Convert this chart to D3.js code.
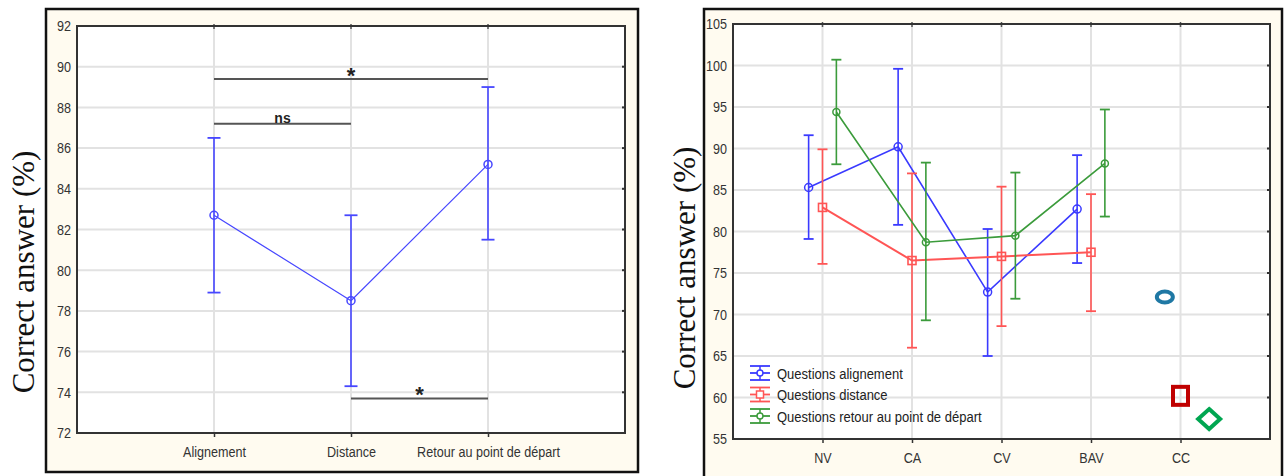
<!DOCTYPE html>
<html>
<head>
<meta charset="utf-8">
<script src="https://cdn.jsdelivr.net/npm/d3@7"></script>
<style>
  body { margin: 0; background: #ffffff; }
  svg { display: block; }
  .tick text { font-family: "Liberation Sans Narrow", "Arial Narrow", "Liberation Sans", sans-serif; font-size: 15px; fill: #333; }
</style>
</head>
<body>
<svg id="chart" width="1284" height="476"></svg>
<script>
// panneau gauche : types de questions
const leftCategories = ["Alignement", "Distance", "Retour au point de départ"];
const leftMeans = [82.7, 78.5, 85.2];
const leftLower = [78.9, 74.3, 81.5];
const leftUpper = [86.5, 82.7, 89.0];
const leftTicks = [72, 74, 76, 78, 80, 82, 84, 86, 88, 90, 92];
const sigFrom = [0, 0, 1];
const sigTo = [2, 1, 2];
const sigValues = [89.4, 87.2, 73.7];
const sigLabels = ["*", "ns", "*"];

// panneau droit : groupes
const rightCategories = ["NV", "CA", "CV", "BAV", "CC"];
const seriesNames = ["Questions alignement", "Questions distance", "Questions retour au point de départ"];
const alignMeans = [85.3, 90.2, 72.7, 82.7];
const alignLower = [79.1, 80.8, 65.0, 76.2];
const alignUpper = [91.6, 99.6, 80.3, 89.2];
const distMeans = [82.9, 76.5, 77.0, 77.5];
const distLower = [76.1, 66.0, 68.6, 70.4];
const distUpper = [89.9, 87.0, 85.4, 84.5];
const retourMeans = [94.4, 78.7, 79.5, 88.2];
const retourLower = [88.1, 69.3, 71.9, 81.8];
const retourUpper = [100.7, 88.3, 87.1, 94.7];
const rightTicks = [55, 60, 65, 70, 75, 80, 85, 90, 95, 100, 105];
const ccValues = [72.1, 60.2, 57.4];

const svg = d3.select("#chart");
const tickFont = '"Liberation Sans Narrow", "Arial Narrow", "Liberation Sans", sans-serif';
const narrow = "scale(0.84,1)";

function drawPanel(frame, plot, yDomain, ticks, nSlots, categories, titleX, titleY) {
    // cadre crème
    svg.append("rect")
        .attr("x", frame.x).attr("y", frame.y)
        .attr("width", frame.w).attr("height", frame.h)
        .attr("fill", "#fffbf0")
        .attr("stroke", "#111").attr("stroke-width", 2.5);

    svg.append("rect")
        .attr("x", plot.l).attr("y", plot.t)
        .attr("width", plot.r - plot.l).attr("height", plot.b - plot.t)
        .attr("fill", "#ffffff");

    let x = d3.scaleLinear([0, nSlots], [plot.l, plot.r]);
    let y = d3.scaleLinear(yDomain, [plot.b, plot.t]);

    // grille
    svg.append("g")
        .selectAll("line")
        .data(ticks)
        .join("line")
        .attr("x1", plot.l).attr("x2", plot.r)
        .attr("y1", d => y(d)).attr("y2", d => y(d))
        .attr("stroke", "#e2e2e2").attr("stroke-width", 2);

    svg.append("g")
        .selectAll("line")
        .data(categories)
        .join("line")
        .attr("x1", (d, i) => x(i + 1)).attr("x2", (d, i) => x(i + 1))
        .attr("y1", plot.t).attr("y2", plot.b)
        .attr("stroke", "#e2e2e2").attr("stroke-width", 2);

    // axe y
    let yAxis = svg.append("g")
        .attr("transform", `translate(${plot.l},0)`)
        .call(d3.axisLeft(y).tickValues(ticks).tickSize(0).tickPadding(7));
    yAxis.select(".domain").remove();
    yAxis.selectAll("text").attr("transform", narrow);

    // petites graduations à droite
    svg.append("g")
        .selectAll("line")
        .data(ticks)
        .join("line")
        .attr("x1", plot.r - 3).attr("x2", plot.r)
        .attr("y1", d => y(d)).attr("y2", d => y(d))
        .attr("stroke", "#333").attr("stroke-width", 2);

    // axe x
    let xAxis = svg.append("g")
        .attr("transform", `translate(0,${plot.b})`)
        .call(d3.axisBottom(x)
            .tickValues(d3.range(1, categories.length + 1))
            .tickFormat(i => categories[i - 1])
            .tickSize(4).tickPadding(9));
    xAxis.select(".domain").remove();
    xAxis.selectAll(".tick line").attr("stroke", "#333").attr("stroke-width", 1.5);
    xAxis.selectAll("text").attr("transform", narrow);

    svg.append("g")
        .selectAll("line")
        .data(categories)
        .join("line")
        .attr("x1", (d, i) => x(i + 1)).attr("x2", (d, i) => x(i + 1))
        .attr("y1", plot.t - 2).attr("y2", plot.t + 3)
        .attr("stroke", "#555").attr("stroke-width", 1.5);

    svg.append("rect")
        .attr("x", plot.l).attr("y", plot.t)
        .attr("width", plot.r - plot.l).attr("height", plot.b - plot.t)
        .attr("fill", "none")
        .attr("stroke", "#333").attr("stroke-width", 2);

    svg.append("text")
        .attr("transform", `translate(${titleX},${titleY}) rotate(-90)`)
        .attr("text-anchor", "middle")
        .attr("font-family", '"Liberation Serif", "DejaVu Serif", serif')
        .attr("font-size", 31)
        .attr("fill", "#111")
        .text("Correct answer (%)");

    return { x, y };
}

function drawSeries(g, x, y, means, lower, upper, offset, color, lineWidth, marker, capHalf) {
    let pts = means.map((m, i) => ({ px: x(i + 1 + offset), m: m, lo: lower[i], hi: upper[i] }));

    g.append("path")
        .datum(pts)
        .attr("fill", "none")
        .attr("stroke", color)
        .attr("stroke-width", lineWidth)
        .attr("d", d3.line().x(d => d.px).y(d => y(d.m)));

    g.append("g")
        .selectAll("line")
        .data(pts)
        .join("line")
        .attr("x1", d => d.px).attr("x2", d => d.px)
        .attr("y1", d => y(d.lo)).attr("y2", d => y(d.hi))
        .attr("stroke", color).attr("stroke-width", 1.6);

    ["lo", "hi"].forEach(k => {
        g.append("g")
            .selectAll("line")
            .data(pts)
            .join("line")
            .attr("x1", d => d.px - capHalf).attr("x2", d => d.px + capHalf)
            .attr("y1", d => y(d[k])).attr("y2", d => y(d[k]))
            .attr("stroke", color).attr("stroke-width", 1.8);
    });

    if (marker == "square") {
        g.append("g")
            .selectAll("rect")
            .data(pts)
            .join("rect")
            .attr("x", d => d.px - 4).attr("y", d => y(d.m) - 4)
            .attr("width", 8).attr("height", 8)
            .attr("fill", "none").attr("stroke", color).attr("stroke-width", 1.6);
    } else {
        g.append("g")
            .selectAll("circle")
            .data(pts)
            .join("circle")
            .attr("cx", d => d.px).attr("cy", d => y(d.m))
            .attr("r", marker == "dot" ? 3.5 : 4)
            .attr("fill", "none").attr("stroke", color).attr("stroke-width", 1.5);
    }
}

// ----- panneau gauche -----
let left = drawPanel({ x: 46, y: 9, w: 592, h: 463 },
    { l: 77, r: 625, t: 26, b: 433 },
    [72, 92], leftTicks, 4, leftCategories, 34, 272);

let lg = svg.append("g");
drawSeries(lg, left.x, left.y, leftMeans, leftLower, leftUpper, 0, "#4747ff", 1.2, "circle", 6.5);

lg.append("g")
    .selectAll("line")
    .data(sigValues)
    .join("line")
    .attr("x1", (d, i) => left.x(sigFrom[i] + 1))
    .attr("x2", (d, i) => left.x(sigTo[i] + 1))
    .attr("y1", d => left.y(d)).attr("y2", d => left.y(d))
    .attr("stroke", "#555").attr("stroke-width", 2);

lg.append("g")
    .selectAll("text")
    .data(sigValues)
    .join("text")
    .attr("x", (d, i) => (left.x(sigFrom[i] + 1) + left.x(sigTo[i] + 1)) / 2)
    .attr("y", (d, i) => left.y(d) - (sigLabels[i] == "*" ? -4 : 1))
    .attr("text-anchor", "middle")
    .attr("font-family", tickFont)
    .attr("font-weight", "bold")
    .attr("font-size", (d, i) => sigLabels[i] == "*" ? 22 : 14)
    .attr("fill", "#222")
    .text((d, i) => sigLabels[i]);

// ----- panneau droit -----
let right = drawPanel({ x: 704, y: 9, w: 578, h: 470 },
    { l: 733, r: 1270, t: 24, b: 439 },
    [55, 105], rightTicks, 6, rightCategories, 695, 268);

const seriesColors = ["#3a3aff", "#ff5555", "#3b9b3b"];
let rg = svg.append("g");
drawSeries(rg, right.x, right.y, alignMeans, alignLower, alignUpper, -0.155, seriesColors[0], 1.6, "circle", 5);
drawSeries(rg, right.x, right.y, distMeans, distLower, distUpper, 0, seriesColors[1], 2, "square", 5);
drawSeries(rg, right.x, right.y, retourMeans, retourLower, retourUpper, 0.155, seriesColors[2], 1.6, "dot", 5);

// symboles isolés près de CC
const ccX = 5;
rg.append("ellipse")
    .attr("cx", right.x(ccX - 0.175)).attr("cy", right.y(ccValues[0]))
    .attr("rx", 8).attr("ry", 5.5)
    .attr("fill", "none").attr("stroke", "#1f78a4").attr("stroke-width", 4);
rg.append("rect")
    .attr("x", right.x(ccX) - 7.5).attr("y", right.y(ccValues[1]) - 9)
    .attr("width", 15).attr("height", 18)
    .attr("fill", "none").attr("stroke", "#c00000").attr("stroke-width", 4);
rg.append("path")
    .attr("transform", `translate(${right.x(ccX + 0.32)},${right.y(ccValues[2])})`)
    .attr("d", "M0,-10L11,0L0,10L-11,0Z")
    .attr("fill", "none").attr("stroke", "#00a651").attr("stroke-width", 4);

// légende
let legend = svg.append("g").attr("transform", "translate(760,373)");
const legendMarkers = ["circle", "square", "dot"];
seriesNames.forEach((name, i) => {
    let row = legend.append("g").attr("transform", `translate(0,${i * 21.5})`);
    let c = seriesColors[i];
    row.append("line").attr("x1", -10).attr("x2", 10).attr("y1", -7).attr("y2", -7).attr("stroke", c).attr("stroke-width", 1.8);
    row.append("line").attr("x1", -10).attr("x2", 10).attr("y1", 7).attr("y2", 7).attr("stroke", c).attr("stroke-width", 1.8);
    row.append("line").attr("x1", -10).attr("x2", 10).attr("y1", 0).attr("y2", 0).attr("stroke", c).attr("stroke-width", 1.8);
    row.append("line").attr("x1", 0).attr("x2", 0).attr("y1", -7).attr("y2", 7).attr("stroke", c).attr("stroke-width", 1.5);
    if (legendMarkers[i] == "square") {
        row.append("rect").attr("x", -3.5).attr("y", -3.5).attr("width", 7).attr("height", 7)
            .attr("fill", "#fff").attr("stroke", c).attr("stroke-width", 1.5);
    } else {
        row.append("circle").attr("r", 3).attr("fill", "#fff").attr("stroke", c).attr("stroke-width", 1.5);
    }
    row.append("text")
        .attr("transform", "translate(17,5.5) " + narrow)
        .attr("font-family", tickFont)
        .attr("font-size", 15.5)
        .attr("fill", "#222")
        .text(name);
});
</script>
</body>
</html>
